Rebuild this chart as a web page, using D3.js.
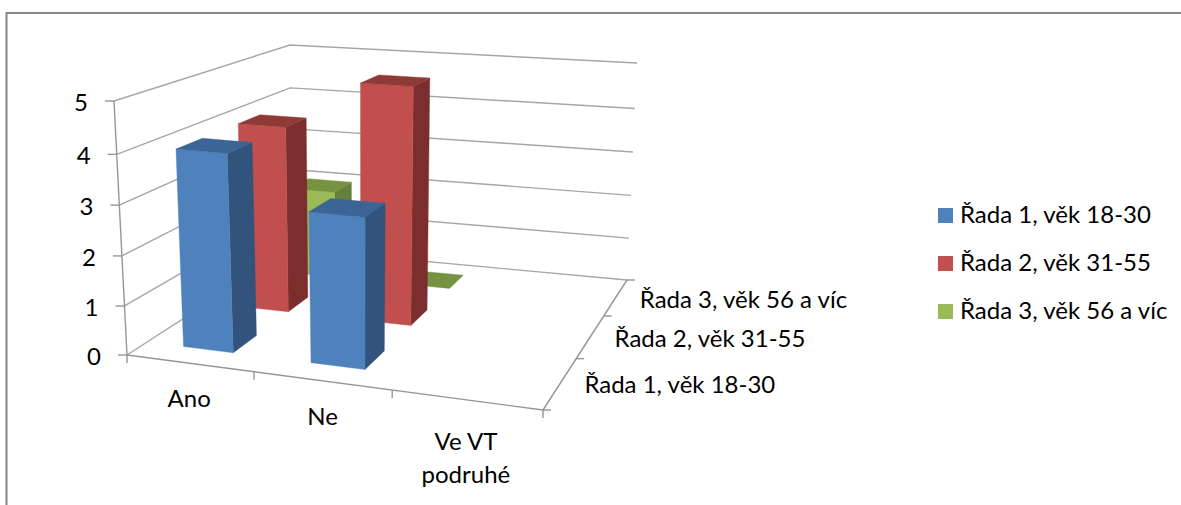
<!DOCTYPE html>
<html><head><meta charset="utf-8">
<script src="https://cdn.jsdelivr.net/npm/d3@7"></script>
<style>html,body{margin:0;padding:0;background:#fff}svg{display:block}text{font-family:Lato,sans-serif;font-size:24px;fill:#000}</style>
</head><body><svg id="c" width="1181" height="505"></svg>
<script>
const categories = ["Ano","Ne","Ve VT podruhé"];
const categoryLines = [["Ano"],["Ne"],["Ve VT","podruhé"]];
const seriesNames = ["Řada 1, věk 18-30","Řada 2, věk 31-55","Řada 3, věk 56 a víc"];
const serie1 = [4,3,null];
const serie2 = [4,5,null];
const serie3 = [2,0,null];
const valueTicks = [0,1,2,3,4,5];
const colors = {
  front:["#4F81BD","#C0504D","#9BBB59"],
  top:["#3B6595","#8E3A38","#77923F"],
  side:["#30527B","#7B2F2E","#66803A"]
};
const series=[serie1,serie2,serie3];
const svg=d3.select("#c");
const defs=svg.append("defs");
defs.append("filter").attr("id","soft").append("feGaussianBlur").attr("stdDeviation",0.45);

function homography(q){
  const [[x0,y0],[x1,y1],[x2,y2],[x3,y3]]=q;
  const dx1=x1-x2,dx2=x3-x2,sx=x0-x1+x2-x3,dy1=y1-y2,dy2=y3-y2,sy=y0-y1+y2-y3;
  const d=dx1*dy2-dx2*dy1;
  const g=(sx*dy2-dx2*sy)/d,h=(dx1*sy-sx*dy1)/d;
  const a=x1-x0+g*x1,b=x3-x0+h*x3,c=x0,e=y1-y0+g*y1,f=y3-y0+h*y3,i=y0;
  return (u,w)=>{const t=g*u+h*w+1;return [(a*u+b*w+c)/t,(e*u+f*w+i)/t];};
}
const floorQuad=[[127,355],[543,410],[627,280],[291,249]];
const ceilQuad=[[114,101],[563,137],[637,63],[290,45]];
const hFloor=homography(floorQuad),hCeil=homography(ceilQuad);
const uScale=d3.scaleLinear().domain([0,categories.length]).range([0,1]);
const wScale=d3.scaleLinear().domain([0,seriesNames.length]).range([0,1]);
// vertical foreshortening of the perspective view
const vScale=d3.scaleLinear().domain(valueTicks).range([0,0.193,0.39,0.59,0.79,1]);
function P(c,s,v){
  const u=uScale(c),w=wScale(s),k=vScale(v);
  const a=hFloor(u,w),b=hCeil(u,w);
  return [a[0]+(b[0]-a[0])*k,a[1]+(b[1]-a[1])*k];
}
const line=d3.line();
const grid=svg.append("g").attr("fill","none").attr("stroke","#A6A6A6").attr("stroke-width",1.4).attr("filter","url(#soft)");
const nC=categories.length,nS=seriesNames.length;
svg.append("path").attr("d",line([[6.5,505],[6.5,13],[1181,13]])).attr("fill","none").attr("stroke","#868686").attr("stroke-width",2);
valueTicks.forEach(v=>{
  grid.append("path").attr("d",line([P(0,0,v),P(0,nS,v),P(nC,nS,v)]));
});
grid.append("path").attr("d",line([P(0,0,0),P(0,0,5)])).attr("stroke","#969696");
grid.append("path").attr("d",line([P(0,0,0),P(nC,0,0)])).attr("stroke","#969696");
grid.append("path").attr("d",line([P(nC,0,0),P(nC,nS,0)])).attr("stroke","#969696");
valueTicks.forEach(v=>{const p=P(0,0,v);grid.append("path").attr("d",line([[p[0]-9,p[1]],p])).attr("stroke","#969696");});
d3.range(nC+1).forEach(c=>{const p=P(c,0,0);grid.append("path").attr("d",line([p,[p[0],p[1]+8]])).attr("stroke","#969696");});
d3.range(nS+1).forEach(s=>{const p=P(nC,s,0);grid.append("path").attr("d",line([p,[p[0]+8,p[1]]])).attr("stroke","#969696");});

const lo=0.3,hi=0.7;
const marks=svg.append("g").attr("filter","url(#soft)");
d3.range(nS-1,-1,-1).forEach(s=>{
  d3.range(nC).forEach(c=>{
    const v=series[s][c];
    if(v===null) return;
    const c0=c+lo,c1=c+hi,s0=s+lo,s1=s+hi;
    const face=(pts,col)=>marks.append("path").attr("d",line(pts)+"Z").attr("fill",col).attr("stroke",col).attr("stroke-width",0.4);
    if(v>0){
      face([P(c1,s0,0),P(c1,s1,0),P(c1,s1,v),P(c1,s0,v)],colors.side[s]);
      face([P(c0,s0,0),P(c1,s0,0),P(c1,s0,v),P(c0,s0,v)],colors.front[s]);
    }
    face([P(c0,s0,v),P(c1,s0,v),P(c1,s1,v),P(c0,s1,v)],colors.top[s]);
  });
});
const labels=svg.append("g");
valueTicks.forEach(v=>{const p=P(0,0,v);labels.append("text").attr("x",p[0]-26).attr("y",p[1]+10).attr("text-anchor","end").text(v);});
const catOffset=[[0,-4],[1,-4],[0,2]];
categoryLines.forEach((ls,c)=>{
  const p=P(c+0.5,0,0);
  ls.forEach((t,i)=>labels.append("text").attr("x",p[0]+catOffset[c][0]).attr("y",p[1]+catOffset[c][1]+48+i*33).attr("text-anchor","middle").text(t));
});
seriesNames.forEach((n,s)=>{
  const p=P(nC,s+0.5,0);
  labels.append("text").attr("x",p[0]+24).attr("y",p[1]+11+[-1,0,0][s]).text(n);
});
const leg=svg.append("g");
const legY=d3.scalePoint().domain(seriesNames).range([223,319]);
seriesNames.forEach((n,s)=>{
  leg.append("rect").attr("x",938).attr("y",legY(n)-15).attr("width",15).attr("height",15).attr("fill",colors.front[s]);
  leg.append("text").attr("x",960).attr("y",legY(n)).text(n);
});
</script></body></html>
